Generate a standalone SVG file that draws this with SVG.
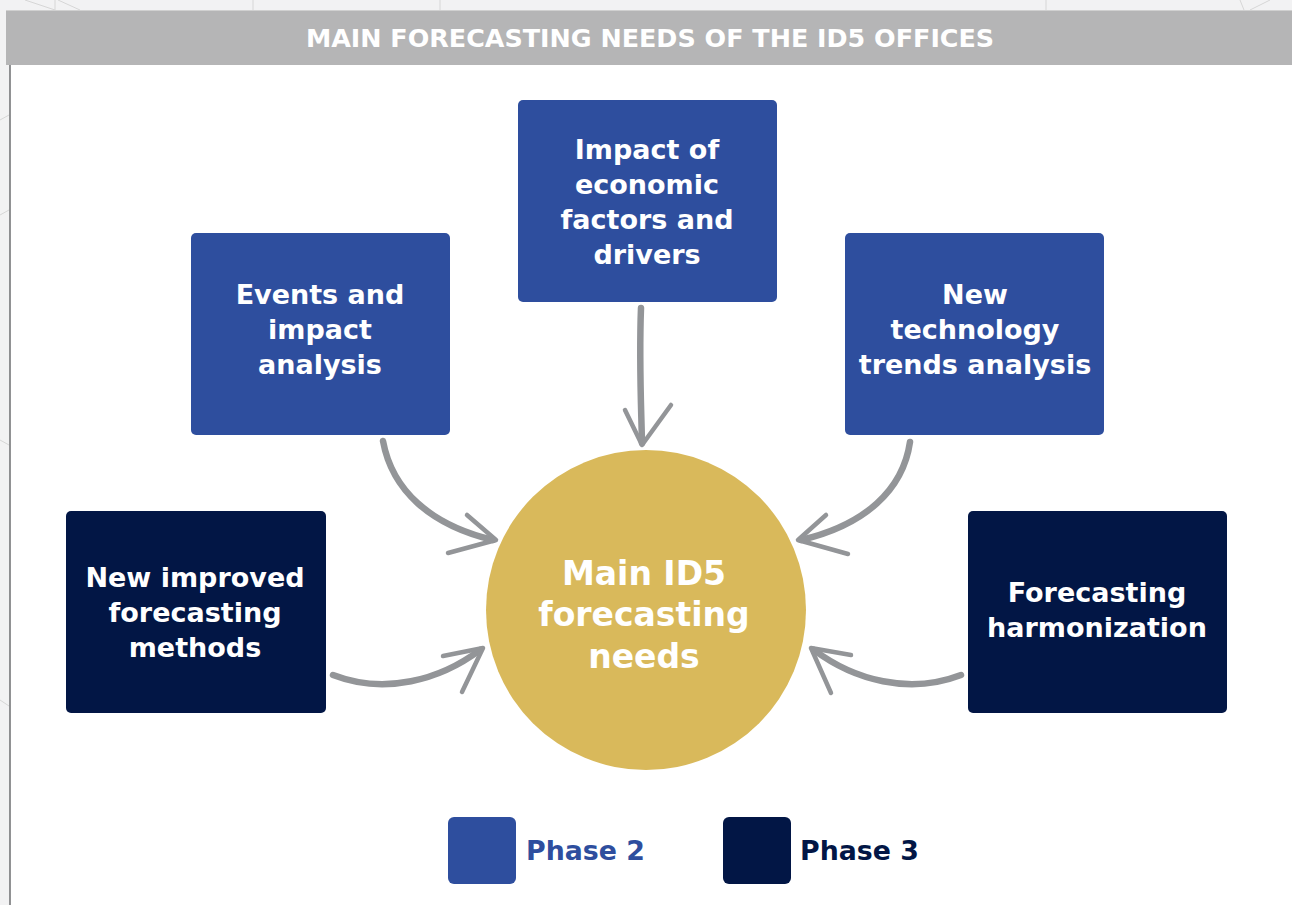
<svg xmlns="http://www.w3.org/2000/svg" width="1292" height="905" viewBox="0 0 1292 905">
<defs>
<style>
.t{font-family:"DejaVu Sans","Open Sans",sans-serif;font-weight:bold;fill:#fff;text-anchor:middle}
.box{font-size:27px}
.p2{fill:#2e4e9e}
.p3{fill:#021645}
.arr{fill:none;stroke:#939598;stroke-linecap:round;stroke-linejoin:round}
.bgl{stroke:#d6d6d6;stroke-width:1;fill:none}
</style>
</defs>
<rect width="1292" height="905" fill="#fff"/>
<g id="background">
<rect x="0" y="0" width="1292" height="10" fill="#f2f2f3"/>
<rect x="0" y="0" width="10" height="905" fill="#f2f2f3"/>
<path class="bgl" d="M25 0 L55 10 M58 0 L80 10 M55 0 V10 M253 0 V10 M440 0 V10 M1046 0 V10 M1240 0 L1244 10 M1250 10 L1270 0 M0 215 L9 210 M0 440 L9 445 M0 120 L9 115 M0 700 L9 706"/>
<line x1="10" y1="65" x2="10" y2="905" stroke="#6d6e71" stroke-width="1.5"/>
</g>
<g id="header">
<rect x="6" y="10" width="1286" height="55" fill="#b5b5b6"/>
<line x1="6" y1="10.5" x2="1292" y2="10.5" stroke="#d0d0d0" stroke-width="1"/>
<text class="t" x="650" y="47" font-size="25.4">MAIN FORECASTING NEEDS OF THE ID5 OFFICES</text>
</g>
<g id="connectors">
<path class="arr" stroke-width="6.5" d="M383 441 C392 490 430 525 493 540"/>
<path class="arr" stroke-width="4.5" d="M467 515 L496 540 L448 553"/>
<path class="arr" stroke-width="6.5" d="M641 308 C639 360 641 400 642 443"/>
<path class="arr" stroke-width="4.5" d="M625 410 L642 445 L671 405"/>
<path class="arr" stroke-width="6.5" d="M910 442 C903 490 865 525 801 540"/>
<path class="arr" stroke-width="4.5" d="M826 515 L798 540 L848 554"/>
<path class="arr" stroke-width="6.5" d="M333 675 C385 695 440 680 480 650"/>
<path class="arr" stroke-width="4.5" d="M443 656 L483 648 L462 692"/>
<path class="arr" stroke-width="6.5" d="M961 675 C909 695 854 680 814 650"/>
<path class="arr" stroke-width="4.5" d="M851 655 L811 648 L831 693"/>
</g>
<g id="node-events">
<rect class="p2" x="191" y="233" width="259" height="202" rx="5"/>
<text class="t box" x="320" y="304">Events and</text>
<text class="t box" x="320" y="339">impact</text>
<text class="t box" x="320" y="374">analysis</text>
</g>
<g id="node-economic">
<rect class="p2" x="518" y="100" width="259" height="202" rx="5"/>
<text class="t box" x="647" y="159">Impact of</text>
<text class="t box" x="647" y="194">economic</text>
<text class="t box" x="647" y="229">factors and</text>
<text class="t box" x="647" y="264">drivers</text>
</g>
<g id="node-technology">
<rect class="p2" x="845" y="233" width="259" height="202" rx="5"/>
<text class="t box" x="975" y="304">New</text>
<text class="t box" x="975" y="339">technology</text>
<text class="t box" x="975" y="374">trends analysis</text>
</g>
<g id="node-methods">
<rect class="p3" x="66" y="511" width="260" height="202" rx="5"/>
<text class="t box" x="195" y="587">New improved</text>
<text class="t box" x="195" y="622">forecasting</text>
<text class="t box" x="195" y="657">methods</text>
</g>
<g id="node-harmonization">
<rect class="p3" x="968" y="511" width="259" height="202" rx="5"/>
<text class="t box" x="1097" y="602">Forecasting</text>
<text class="t box" x="1097" y="637">harmonization</text>
</g>
<g id="node-main">
<circle cx="646" cy="610" r="160" fill="#d9b95b"/>
<text class="t" font-size="33" x="644" y="585">Main ID5</text>
<text class="t" font-size="33" x="644" y="626">forecasting</text>
<text class="t" font-size="33" x="644" y="668">needs</text>
</g>
<g id="legend">
<rect class="p2" x="448" y="817" width="68" height="67" rx="6"/>
<text class="t" x="526" y="860" font-size="26.8" style="text-anchor:start;fill:#2e4e9e">Phase 2</text>
<rect class="p3" x="723" y="817" width="68" height="67" rx="6"/>
<text class="t" x="800" y="860" font-size="26.8" style="text-anchor:start;fill:#021645">Phase 3</text>
</g>
</svg>
